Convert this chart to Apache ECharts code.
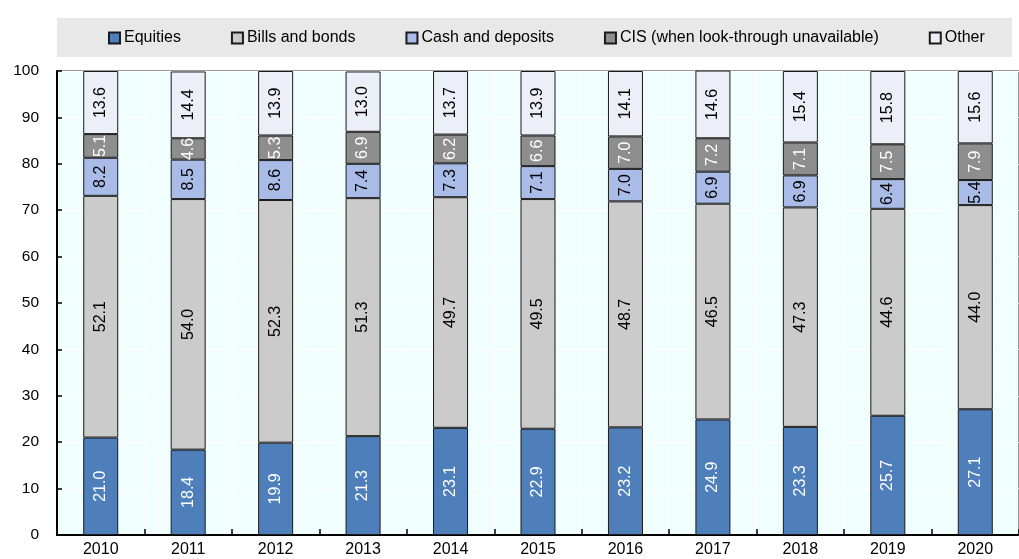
<!DOCTYPE html>
<html>
<head>
<meta charset="utf-8">
<script src="https://cdn.jsdelivr.net/npm/echarts@6/dist/echarts.min.js"></script>
<style>
  html, body { margin: 0; padding: 0; background: #ffffff; }
  #chart { width: 1019px; height: 559px; }
</style>
</head>
<body>
<div id="chart"></div>
<script>
// Portfolio composition by asset class, % of total
const years = ['2010', '2011', '2012', '2013', '2014', '2015', '2016', '2017', '2018', '2019', '2020'];
const equities = [21.0, 18.4, 19.9, 21.3, 23.1, 22.9, 23.2, 24.9, 23.3, 25.7, 27.1];
const billsBonds = [52.1, 54.0, 52.3, 51.3, 49.7, 49.5, 48.7, 46.5, 47.3, 44.6, 44.0];
const cashDeposits = [8.2, 8.5, 8.6, 7.4, 7.3, 7.1, 7.0, 6.9, 6.9, 6.4, 5.4];
const cis = [5.1, 4.6, 5.3, 6.9, 6.2, 6.6, 7.0, 7.2, 7.1, 7.5, 7.9];
const other = [13.6, 14.4, 13.9, 13.0, 13.7, 13.9, 14.1, 14.6, 15.4, 15.8, 15.6];

const FONT = '"Liberation Sans", Arial, sans-serif';

function makeSeries(name, data, color, labelColor) {
  return {
    name: name,
    type: 'bar',
    stack: 'total',
    data: data,
    barWidth: 35,
    itemStyle: { color: color, borderColor: '#1a1a1a', borderWidth: 1 },
    label: {
      show: true,
      position: 'inside',
      rotate: 90,
      color: labelColor,
      fontFamily: FONT,
      fontSize: 16,
      formatter: p => p.value.toFixed(1)
    }
  };
}

const chart = echarts.init(document.getElementById('chart'), null, { renderer: 'canvas' });
chart.setOption({
  animation: false,
  backgroundColor: '#ffffff',
  graphic: [{
    type: 'rect',
    z: -1,
    shape: { x: 57, y: 18, width: 955, height: 39 },
    style: { fill: '#e8e8e8' }
  }],
  legend: {
    top: 30,
    left: 108,
    padding: 0,
    itemWidth: 11,
    itemHeight: 11,
    itemGap: 50,
    icon: 'rect',
    textStyle: { fontFamily: FONT, fontSize: 16, color: '#000', padding: [0, 0, 0, -1] },
    data: ['Equities', 'Bills and bonds', 'Cash and deposits', 'CIS (when look-through unavailable)', 'Other']
  },
  grid: {
    left: 57, right: -13, top: 71, bottom: 24,
    show: true,
    backgroundColor: '#f1fefe',
    borderColor: '#333333',
    borderWidth: 1
  },
  xAxis: {
    type: 'category',
    data: years,
    boundaryGap: true,
    axisLine: { lineStyle: { color: '#000', width: 2 } },
    axisTick: { show: true, inside: true, length: 6, lineStyle: { color: '#000', width: 1.5 } },
    splitLine: { show: true, lineStyle: { color: '#ffffff', width: 1 } },
    axisLabel: { fontFamily: FONT, fontSize: 16, color: '#000', margin: 7 }
  },
  yAxis: {
    type: 'value',
    min: 0,
    max: 100,
    interval: 10,
    axisLine: { show: true, lineStyle: { color: '#000', width: 2 } },
    axisTick: { show: true, inside: true, length: 5, lineStyle: { color: '#000', width: 1.5 } },
    splitLine: { show: true, lineStyle: { color: '#ffffff', width: 1 } },
    axisLabel: { fontFamily: FONT, fontSize: 15.5, color: '#000', margin: 18 }
  },
  series: [
    makeSeries('Equities', equities, '#4e7fbb', '#ffffff'),
    makeSeries('Bills and bonds', billsBonds, '#cbcbcb', '#000000'),
    makeSeries('Cash and deposits', cashDeposits, '#a9bce8', '#000000'),
    makeSeries('CIS (when look-through unavailable)', cis, '#8e8e8e', '#ffffff'),
    makeSeries('Other', other, '#eceef8', '#000000')
  ]
});
</script>
</body>
</html>
